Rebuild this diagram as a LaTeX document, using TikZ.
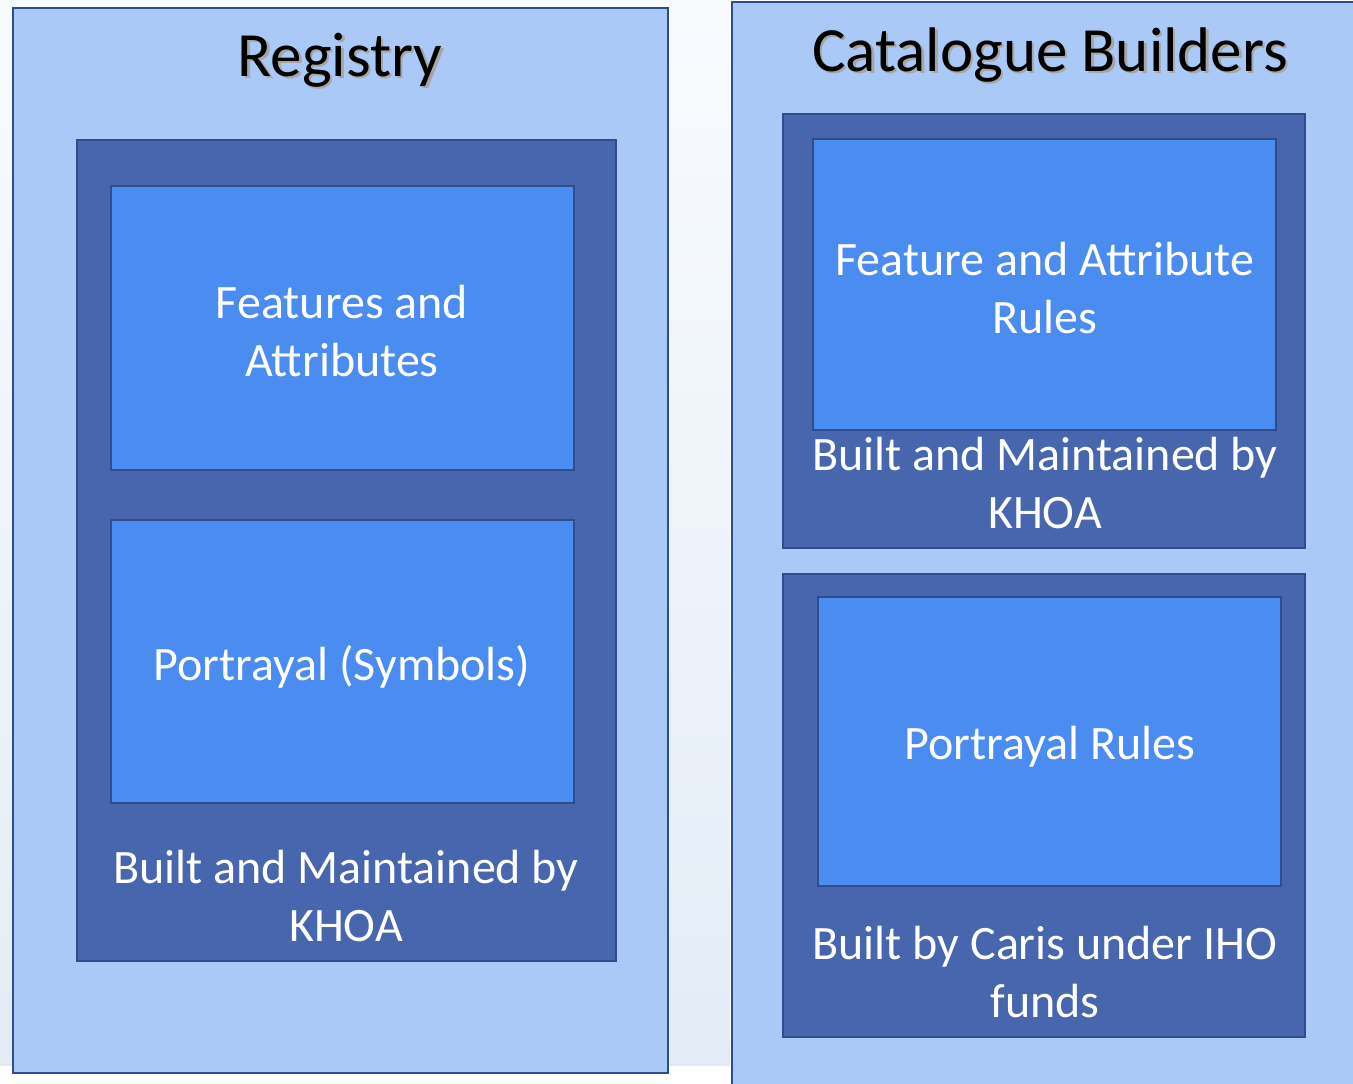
\documentclass[tikz,border=0pt]{standalone}
\usepackage{fontspec}
\setmainfont{Carlito}
\definecolor{bgtop}{HTML}{F8FBFE}
\definecolor{bgbot}{HTML}{E3ECF6}
\definecolor{panelc}{HTML}{ABC9F7}
\definecolor{bordc}{HTML}{2F4C8C}
\definecolor{midc}{HTML}{4866AE}
\definecolor{innc}{HTML}{4A8CEF}
\newcommand{\shtitle}[1]{{\color{black!35}\rlap{\kern2.5pt\raisebox{-2.5pt}{#1}}}#1}
\tikzset{
  box/.style={draw=bordc, line width=2pt, inner sep=0pt, outer sep=0pt, anchor=north west},
  panelbox/.style={box, fill=panelc},
  midbox/.style={box, fill=midc},
  innbox/.style={box, fill=innc},
  title/.style={font=\fontsize{63}{70}\selectfont, text=black, inner sep=0pt},
  caption/.style={text=white, align=center, font=\fontsize{48}{57.6}\selectfont, inner sep=0pt}
}
\begin{document}
\begin{tikzpicture}[x=1pt,y=-1pt]
\useasboundingbox (0,0) rectangle (1353,1084);
\clip (0,0) rectangle (1353,1084);
\fill[white] (0,0) rectangle (1353,1084);
\shade[top color=bgtop, bottom color=bgbot] (0,0) rectangle (730,1065);
% Left panel
\node[panelbox, minimum width=655pt, minimum height=1065pt] (regpanel) at (13,8) {};
\node[title] (regtitle) at (340,61) {\shtitle{Registry}};
\node[midbox, minimum width=539pt, minimum height=821pt] (regmid) at (77,140) {};
\node[innbox, minimum width=463pt, minimum height=284pt] (regfeat) at (111,186) {};
\node[caption] (regfeattext) at (342,331) {Features and\\Attributes};
\node[innbox, minimum width=463pt, minimum height=283pt] (regport) at (111,520) {};
\node[caption] (regporttext) at (342,667) {Portrayal (Symbols)};
\node[caption] (regcap) at (346,896) {Built and Maintained by\\KHOA};
% Right panel
\node[panelbox, minimum width=660pt, minimum height=1100pt] (catpanel) at (732,2) {};
\node[title] (cattitle) at (1050,56) {\shtitle{Catalogue Builders}};
\node[midbox, minimum width=522pt, minimum height=434pt] (catmid1) at (783,114) {};
\node[innbox, minimum width=463pt, minimum height=291pt] (catfeat) at (813,139) {};
\node[caption] (catfeattext) at (1045,288) {Feature and Attribute\\Rules};
\node[caption] (catcap1) at (1045,483) {Built and Maintained by\\KHOA};
\node[midbox, minimum width=522pt, minimum height=463pt] (catmid2) at (783,574) {};
\node[innbox, minimum width=463pt, minimum height=289pt] (catport) at (818,597) {};
\node[caption] (catporttext) at (1050,747) {Portrayal Rules};
\node[caption] (catcap2) at (1045,972) {Built by Caris under IHO\\funds};
\end{tikzpicture}
\end{document}
